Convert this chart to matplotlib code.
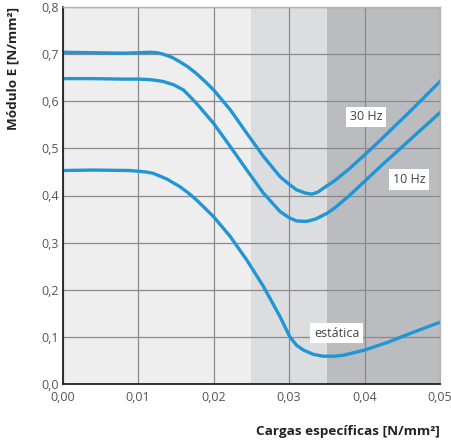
import matplotlib.pyplot as plt
import numpy as np

plt.rcParams['font.family'] = ['Open Sans', 'DejaVu Sans']

# ##### Data #####

x_30hz = [0.000, 0.004, 0.008, 0.010, 0.0116, 0.0125, 0.0133, 0.0145, 0.0155,
          0.0166, 0.0177, 0.0188, 0.0200, 0.0222, 0.0244, 0.0266, 0.0288,
          0.0300, 0.0310, 0.0322, 0.0330, 0.0338, 0.0345, 0.036, 0.038, 0.040,
          0.042, 0.044, 0.046, 0.048, 0.050]
y_30hz = [0.704, 0.703, 0.702, 0.703, 0.704, 0.703, 0.700, 0.693, 0.684,
          0.673, 0.659, 0.643, 0.624, 0.582, 0.532, 0.483, 0.440,
          0.424, 0.412, 0.405, 0.403, 0.407, 0.415, 0.431, 0.457, 0.486,
          0.516, 0.547, 0.578, 0.610, 0.642]

x_10hz = [0.000, 0.004, 0.008, 0.010, 0.0115, 0.0125, 0.0133, 0.0147, 0.0160,
          0.0168, 0.0177, 0.0200, 0.0222, 0.0244, 0.0266, 0.0288, 0.0300,
          0.0310, 0.0323, 0.0335, 0.0350, 0.036, 0.038, 0.040, 0.042, 0.044,
          0.046, 0.048, 0.050]
y_10hz = [0.648, 0.648, 0.647, 0.647, 0.646, 0.644, 0.642, 0.635, 0.624,
          0.611, 0.596, 0.553, 0.504, 0.454, 0.405, 0.366, 0.353,
          0.346, 0.345, 0.350, 0.362, 0.373, 0.400, 0.430, 0.460, 0.489,
          0.518, 0.547, 0.576]

x_est = [0.000, 0.004, 0.0089, 0.0110, 0.0120, 0.0138, 0.0155, 0.0166, 0.0177,
         0.0200, 0.0222, 0.0244, 0.0266, 0.0288, 0.0301, 0.0310, 0.0319,
         0.0332, 0.0345, 0.0360, 0.0372, 0.040, 0.043, 0.046, 0.050]
y_est = [0.453, 0.454, 0.453, 0.450, 0.447, 0.435, 0.419, 0.406, 0.391,
         0.355, 0.313, 0.263, 0.207, 0.143, 0.100, 0.082, 0.072,
         0.063, 0.059, 0.059, 0.061, 0.072, 0.088, 0.107, 0.131]

bands = [(0.000, 0.025, '#eeeeee'), (0.025, 0.035, '#dcdddf'),
         (0.035, 0.050, '#bbbcc0')]

labels = [('30 Hz', 0.0402, 0.567), ('10 Hz', 0.0459, 0.434),
          ('estática', 0.0363, 0.108)]

xticks = [0.00, 0.01, 0.02, 0.03, 0.04, 0.05]
yticks = [0.0, 0.1, 0.2, 0.3, 0.4, 0.5, 0.6, 0.7, 0.8]

# ##### Make plot #####

fig = plt.figure(figsize=(4.51, 4.43), dpi=100)
ax = fig.add_axes([62.7 / 451, (443 - 384) / 443, 377.3 / 451, 377 / 443])

for x0, x1, col in bands:
    ax.axvspan(x0, x1, color=col, lw=0, zorder=0)

ax.set_xlim(0, 0.05)
ax.set_ylim(0, 0.8)
ax.set_xticks(xticks)
ax.set_yticks(yticks)
ax.set_xticklabels([f"{t:.2f}".replace(".", ",") for t in xticks])
ax.set_yticklabels([f"{t:.1f}".replace(".", ",") for t in yticks])
ax.grid(True, color='#8a8a8a', lw=0.9, zorder=1)
ax.set_axisbelow(False)
ax.tick_params(length=0, labelsize=9, colors='#555555', pad=3)
ax.tick_params(axis='x', pad=5)

blue = '#2196d6'
for xs, ys in [(x_30hz, y_30hz), (x_10hz, y_10hz), (x_est, y_est)]:
    ax.plot(xs, ys, color=blue, lw=2.4, solid_joinstyle='round', zorder=3)

for txt, x, y in labels:
    ax.text(x, y, txt, ha='center', va='center', fontsize=9, color='#444444',
            zorder=4, bbox=dict(facecolor='white', edgecolor='none',
                                boxstyle='square,pad=0.3'))

for side in ['top', 'right']:
    ax.spines[side].set_color('#b5b5b5')
    ax.spines[side].set_linewidth(1.0)
for side in ['left', 'bottom']:
    ax.spines[side].set_color('#222222')
    ax.spines[side].set_linewidth(1.3)
for sp in ax.spines.values():
    sp.set_zorder(5)

fig.text(13 / 451, 1 - 68 / 443, "Módulo E [N/mm²]", rotation=90,
         ha='center', va='center', fontsize=9.7, fontweight='bold',
         color='#222222')
fig.text(440 / 451, 1 - 431.5 / 443, "Cargas específicas [N/mm²]",
         ha='right', va='center', fontsize=9.7, fontweight='bold',
         color='#222222')

plt.savefig("out.png", dpi=100)
plt.close()
